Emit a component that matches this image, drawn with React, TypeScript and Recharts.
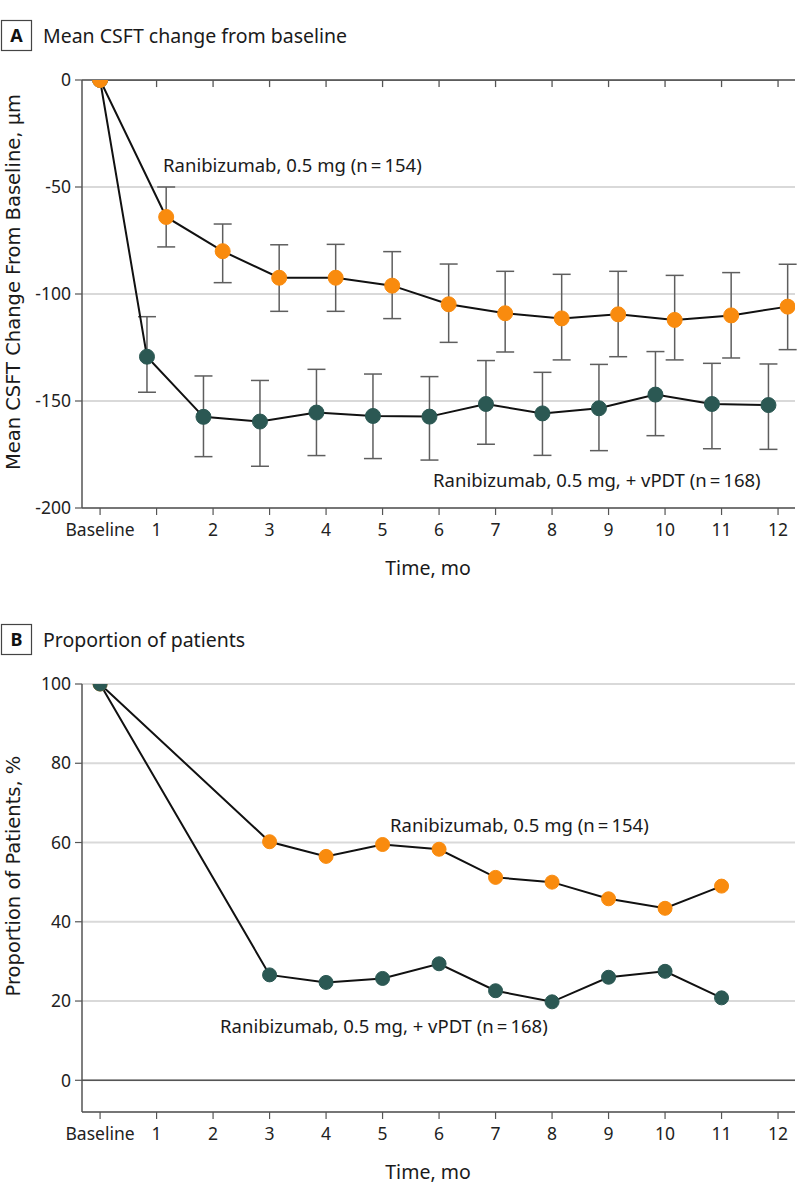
import React from 'react';
import {
  LineChart,
  Line,
  XAxis,
  YAxis,
  CartesianGrid,
  ErrorBar,
  ReferenceLine,
  ReferenceDot,
} from 'recharts';

// ---------- data ----------
const MONTHS = [0, 1, 2, 3, 4, 5, 6, 7, 8, 9, 10, 11, 12];
const TICK_LABELS = ['Baseline', '1', '2', '3', '4', '5', '6', '7', '8', '9', '10', '11', '12'];

// Panel A: mean CSFT change from baseline (µm) with 95% CI bounds
const A_RANI_MEAN = [0, -64, -80, -92.4, -92.4, -96.1, -104.8, -109, -111.4, -109.5, -112.1, -110, -105.9];
const A_RANI_UPPER = [null, -50, -67.3, -77, -76.8, -80.2, -86, -89.4, -90.8, -89.4, -91.3, -90, -86.1];
const A_RANI_LOWER = [null, -78, -94.7, -108.1, -108.1, -111.5, -122.6, -127.1, -130.8, -129.3, -130.8, -129.9, -126];

const A_VPDT_MEAN = [0, -129.3, -157.4, -159.6, -155.4, -157, -157.3, -151.4, -155.8, -153.4, -147, -151.4, -151.9];
const A_VPDT_UPPER = [null, -110.6, -138.3, -140.4, -135.2, -137.4, -138.6, -131.1, -136.6, -132.9, -126.9, -132.4, -132.7];
const A_VPDT_LOWER = [null, -145.9, -176, -180.5, -175.5, -176.9, -177.6, -170.2, -175.4, -173.2, -166.2, -172.3, -172.6];

// Panel B: proportion of patients (%)
const B_MONTHS = [0, 3, 4, 5, 6, 7, 8, 9, 10, 11];
const B_RANI = [100, 60.2, 56.5, 59.5, 58.3, 51.2, 50.0, 45.8, 43.4, 49.0];
const B_VPDT = [100, 26.6, 24.7, 25.7, 29.4, 22.6, 19.8, 26.0, 27.5, 20.8];

const A_Y_TICKS = [-200, -150, -100, -50, 0];
const B_Y_TICKS = [0, 20, 40, 60, 80, 100];

const RANI_LABEL = 'Ranibizumab, 0.5 mg (n\u2009=\u2009154)';
const VPDT_LABEL = 'Ranibizumab, 0.5 mg, + vPDT (n\u2009=\u2009168)';

// ---------- style ----------
const ORANGE = '#F98B0E';
const TEAL = '#2B5853';
const AXIS = '#555555';
const GRID = '#d9d9d9';
const FONT = "'Noto Sans', 'Open Sans', sans-serif";
const YFONT = "'DejaVu Sans', 'Noto Sans', sans-serif";
const W = 798;
const CH = 593;
const B_TOP = 604;
const DODGE = 0.17;
const X_DOMAIN = [-0.32, 12.3];
const TOP_TICK_LEN = 3.3; // downward tick marks on the zero line (in µm units ≈ 7 px)

const buildA = (mean: number[], upper: (number | null)[], lower: (number | null)[], shift: number) =>
  MONTHS.map((m, i) => ({
    x: m === 0 ? 0 : m + shift,
    y: mean[i],
    err: upper[i] == null ? null : [mean[i] - (lower[i] as number), (upper[i] as number) - mean[i]],
  }));

const aRani = buildA(A_RANI_MEAN, A_RANI_UPPER, A_RANI_LOWER, DODGE);
const aVpdt = buildA(A_VPDT_MEAN, A_VPDT_UPPER, A_VPDT_LOWER, -DODGE);
const zeroTicks = MONTHS.map((m) => ({ x: m, y: 0, tick: [TOP_TICK_LEN, 0] }));
const bRani = B_MONTHS.map((m, i) => ({ x: m, y: B_RANI[i] }));
const bVpdt = B_MONTHS.map((m, i) => ({ x: m, y: B_VPDT[i] }));

const fmtX = (v: number) => TICK_LABELS[MONTHS.indexOf(v)] ?? '';

const seriesLabel = (text: string) => (props: any) => {
  const vb = props.viewBox || {};
  const x = (vb.x ?? 0) + (vb.width ?? 0) / 2;
  const y = (vb.y ?? 0) + (vb.height ?? 0) / 2;
  return (
    <text x={x} y={y} fontFamily={FONT} fontSize={18.5} fill="#1a1a1a" textAnchor="start">
      {text}
    </text>
  );
};

const tickStyle = { fill: '#222', fontSize: 17.5, fontFamily: FONT };

function Header({ letter, title, top }: { letter: string; title: string; top: number }) {
  return (
    <g transform={`translate(0, ${top})`}>
      <rect x={1.5} y={20.5} width={30} height={30} fill="#fff" stroke="#444" strokeWidth={1.2} />
      <text x={16.5} y={42} textAnchor="middle" fontFamily={FONT} fontWeight={700} fontSize={18} fill="#111">
        {letter}
      </text>
      <text x={43} y={43} fontFamily={FONT} fontSize={19.5} fill="#1a1a1a">
        {title}
      </text>
    </g>
  );
}

export default function App() {
  return (
    <div style={{ position: 'absolute', left: 0, top: 0, width: W, height: 1197, background: '#fff' }}>
      {/* Panel A */}
      <div style={{ position: 'absolute', left: 0, top: 0 }}>
        <LineChart width={W} height={CH} margin={{ top: 80, right: 3, bottom: 0, left: 0 }}>
          <CartesianGrid vertical={false} stroke={GRID} strokeWidth={2} />
          <XAxis
            type="number"
            dataKey="x"
            domain={X_DOMAIN}
            ticks={MONTHS}
            interval={0}
            allowDataOverflow
            tickFormatter={fmtX}
            height={85}
            tickSize={7}
            tickMargin={9}
            tick={tickStyle}
            axisLine={{ stroke: AXIS, strokeWidth: 1.5 }}
            tickLine={{ stroke: AXIS, strokeWidth: 1.2 }}
          />
          <YAxis
            type="number"
            domain={[-200, 0]}
            ticks={A_Y_TICKS}
            interval={0}
            allowDataOverflow
            width={82}
            tickSize={7}
            tickMargin={4}
            tick={tickStyle}
            axisLine={{ stroke: AXIS, strokeWidth: 1.5 }}
            tickLine={{ stroke: AXIS, strokeWidth: 1.2 }}
          />
          <ReferenceLine y={0} stroke={AXIS} strokeWidth={1.5} />
          {/* zero line with downward tick marks */}
          <Line
            data={zeroTicks}
            dataKey="y"
            type="linear"
            stroke={AXIS}
            strokeWidth={1.5}
            dot={false}
            activeDot={false}
            legendType="none"
            isAnimationActive={false}
          >
            <ErrorBar dataKey="tick" direction="y" width={0} stroke={AXIS} strokeWidth={1.3} isAnimationActive={false} />
          </Line>
          <Line
            data={aVpdt}
            dataKey="y"
            type="linear"
            stroke="#111"
            strokeWidth={2}
            dot={{ r: 7.5, fill: TEAL, stroke: TEAL, strokeWidth: 1 }}
            isAnimationActive={false}
          >
            <ErrorBar dataKey="err" direction="y" width={9} stroke="#5e5e5e" strokeWidth={1.5} isAnimationActive={false} />
          </Line>
          <Line
            data={aRani}
            dataKey="y"
            type="linear"
            stroke="#111"
            strokeWidth={2}
            dot={{ r: 7.5, fill: ORANGE, stroke: ORANGE, strokeWidth: 1 }}
            isAnimationActive={false}
          >
            <ErrorBar dataKey="err" direction="y" width={9} stroke="#5e5e5e" strokeWidth={1.5} isAnimationActive={false} />
          </Line>
          <ReferenceDot x={1.115} y={-43} r={0} fill="none" stroke="none" ifOverflow="visible" label={seriesLabel(RANI_LABEL)} />
          <ReferenceDot x={5.894} y={-190.2} r={0} fill="none" stroke="none" ifOverflow="visible" label={seriesLabel(VPDT_LABEL)} />
        </LineChart>
      </div>

      {/* Panel B */}
      <div style={{ position: 'absolute', left: 0, top: B_TOP }}>
        <LineChart width={W} height={CH} margin={{ top: 80, right: 3, bottom: 0, left: 0 }}>
          <CartesianGrid vertical={false} stroke={GRID} strokeWidth={2} />
          <XAxis
            type="number"
            dataKey="x"
            domain={X_DOMAIN}
            ticks={MONTHS}
            interval={0}
            allowDataOverflow
            tickFormatter={fmtX}
            height={85}
            tickSize={7}
            tickMargin={9}
            tick={tickStyle}
            axisLine={{ stroke: AXIS, strokeWidth: 1.5 }}
            tickLine={{ stroke: AXIS, strokeWidth: 1.2 }}
          />
          <YAxis
            type="number"
            domain={[-8, 100]}
            ticks={B_Y_TICKS}
            interval={0}
            allowDataOverflow
            width={82}
            tickSize={7}
            tickMargin={4}
            tick={tickStyle}
            axisLine={{ stroke: AXIS, strokeWidth: 1.5 }}
            tickLine={{ stroke: AXIS, strokeWidth: 1.2 }}
          />
          <ReferenceLine y={0} stroke={AXIS} strokeWidth={1.5} />
          <Line
            data={bRani}
            dataKey="y"
            type="linear"
            stroke="#111"
            strokeWidth={2}
            dot={{ r: 7, fill: ORANGE, stroke: ORANGE, strokeWidth: 1 }}
            isAnimationActive={false}
          />
          <Line
            data={bVpdt}
            dataKey="y"
            type="linear"
            stroke="#111"
            strokeWidth={2}
            dot={{ r: 7, fill: TEAL, stroke: TEAL, strokeWidth: 1 }}
            isAnimationActive={false}
          />
          <ReferenceDot x={5.133} y={62.6} r={0} fill="none" stroke="none" ifOverflow="visible" label={seriesLabel(RANI_LABEL)} />
          <ReferenceDot x={2.124} y={11.9} r={0} fill="none" stroke="none" ifOverflow="visible" label={seriesLabel(VPDT_LABEL)} />
        </LineChart>
      </div>

      {/* titles and axis titles */}
      <svg
        width={W}
        height={1197}
        style={{ position: 'absolute', left: 0, top: 0, pointerEvents: 'none' }}
      >
        <Header letter="A" title="Mean CSFT change from baseline" top={0} />
        <Header letter="B" title="Proportion of patients" top={B_TOP} />
        <text
          x={0}
          y={0}
          transform="translate(20, 282) rotate(-90)"
          textAnchor="middle"
          fontFamily={YFONT}
          fontSize={19.5}
          fill="#1a1a1a"
        >
          Mean CSFT Change From Baseline, μm
        </text>
        <text
          x={0}
          y={0}
          transform={`translate(20, ${272 + B_TOP}) rotate(-90)`}
          textAnchor="middle"
          fontFamily={YFONT}
          fontSize={19.5}
          fill="#1a1a1a"
        >
          Proportion of Patients, %
        </text>
        <text x={428} y={575} textAnchor="middle" fontFamily={FONT} fontSize={19.5} fill="#1a1a1a">
          Time, mo
        </text>
        <text x={428} y={575 + B_TOP} textAnchor="middle" fontFamily={FONT} fontSize={19.5} fill="#1a1a1a">
          Time, mo
        </text>
      </svg>
    </div>
  );
}
